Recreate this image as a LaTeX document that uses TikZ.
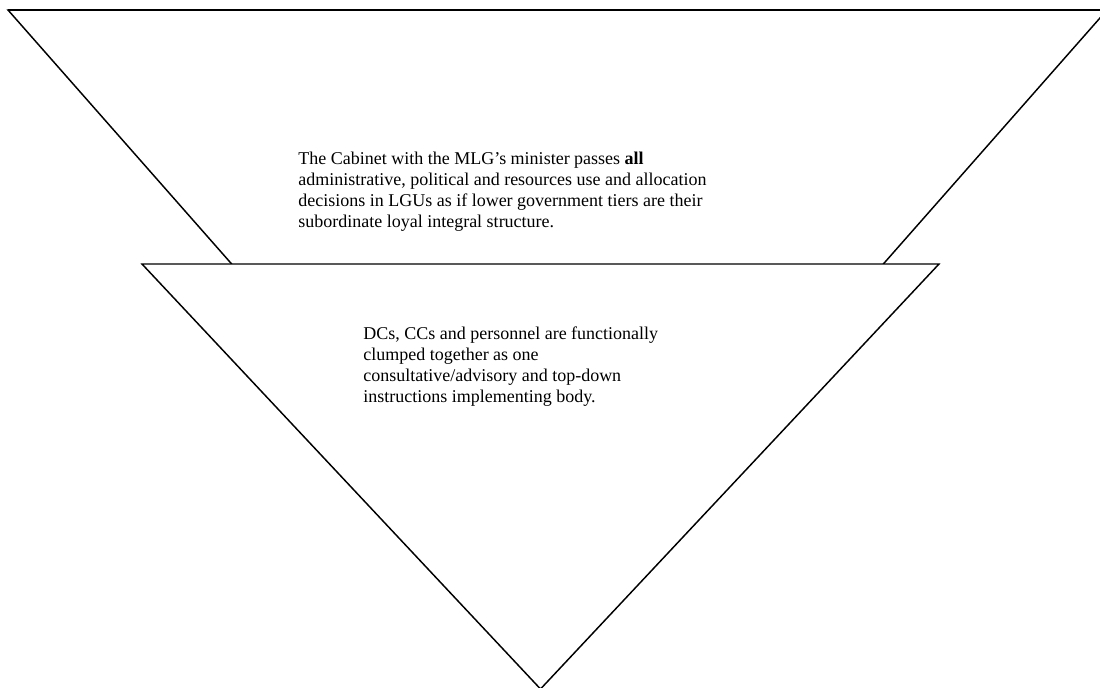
\documentclass[tikz,border=0pt]{standalone}
\usepackage{fontspec}
\setmainfont{Liberation Serif}
\begin{document}
\begin{tikzpicture}[x=0.75pt,y=-0.75pt,
  tri/.style={draw=black, line width=1.1pt, fill=white, line join=miter},
  txt/.style={anchor=north west, align=left, inner sep=0pt, font=\fontsize{13.5}{15.75}\selectfont}]
\useasboundingbox (0,0) rectangle (1100,688);
\clip (0,0) rectangle (1100,688);
\draw[tri] (8,10) -- (1107,10) -- (557.5,634) -- cycle;
\draw[line width=1.6pt] (8,10) -- (1107,10);
\draw[tri] (142,264) -- (939,264) -- (540.5,689) -- cycle;
\node[txt] (t1) at (298,151.5) {The Cabinet with the MLG’s minister passes \textbf{all}\\
administrative, political and resources use and allocation\\
decisions in LGUs as if lower government tiers are their\\
subordinate loyal integral structure.};
\node[txt] (t2) at (363,326.5) {DCs, CCs and personnel are functionally\\
clumped together as one\\
consultative/advisory and top-down\\
instructions implementing body.};
\end{tikzpicture}
\end{document}
